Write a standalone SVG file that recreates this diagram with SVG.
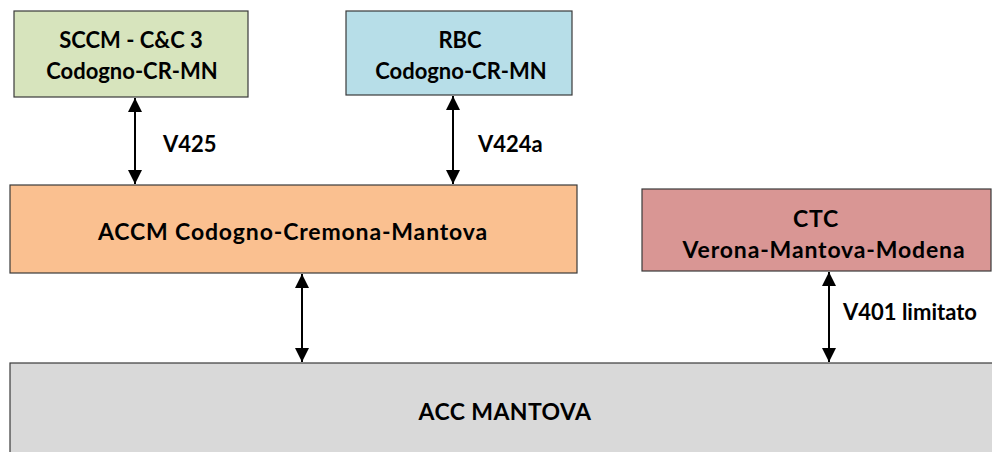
<svg xmlns="http://www.w3.org/2000/svg" width="992" height="452" viewBox="0 0 992 452">
  <style>
    .box { stroke: #3a3a3a; stroke-width: 1.2; }
    .t { font-family: Lato, "Open Sans", "Liberation Sans", sans-serif; font-weight: bold; font-size: 22px; fill: #000; }
    .c { text-anchor: middle; }
    .big { font-size: 23px; letter-spacing: 0.85px; }
    .link { stroke: #000; stroke-width: 2; fill: none; marker-start: url(#head); marker-end: url(#head); }
  </style>
  <defs>
    <marker id="head" viewBox="0 0 10 10" refX="10" refY="5" markerWidth="7" markerHeight="7" orient="auto-start-reverse" markerUnits="strokeWidth">
      <path d="M0,0 L10,5 L0,10 Z" fill="#000"/>
    </marker>
  </defs>

  <rect width="992" height="452" fill="#fff"/>

  <g id="sccm">
    <rect class="box" x="14" y="11" width="234" height="86" fill="#d7e4bd"/>
    <text class="t c" x="131" y="48">SCCM - C&amp;C 3</text>
    <text class="t c" x="132" y="79">Codogno-CR-MN</text>
  </g>

  <g id="rbc">
    <rect class="box" x="346" y="11" width="226" height="84" fill="#b7dee8"/>
    <text class="t c" x="460" y="48">RBC</text>
    <text class="t c" x="461" y="79">Codogno-CR-MN</text>
  </g>

  <g id="accm">
    <rect class="box" x="10" y="185" width="567" height="88" fill="#fac090"/>
    <text class="t c big" x="293" y="240">ACCM Codogno-Cremona-Mantova</text>
  </g>

  <g id="ctc">
    <rect class="box" x="642" y="189" width="349" height="82" fill="#d99694"/>
    <text class="t c big" x="816" y="227">CTC</text>
    <text class="t c big" x="824" y="258">Verona-Mantova-Modena</text>
  </g>

  <g id="acc">
    <rect class="box" x="10" y="363" width="990" height="100" fill="#d9d9d9"/>
    <text class="t c" x="505" y="420" style="font-size:23px;letter-spacing:0.4px">ACC MANTOVA</text>
  </g>

  <g id="connectors">
    <line class="link" x1="135" y1="98" x2="135" y2="184"/>
    <text class="t" x="163" y="152">V425</text>
    <line class="link" x1="453" y1="96" x2="453" y2="184"/>
    <text class="t" x="478" y="152">V424a</text>
    <line class="link" x1="302" y1="274" x2="302" y2="362"/>
    <line class="link" x1="829" y1="272" x2="829" y2="362"/>
    <text class="t" x="843" y="320">V401 limitato</text>
  </g>
</svg>
